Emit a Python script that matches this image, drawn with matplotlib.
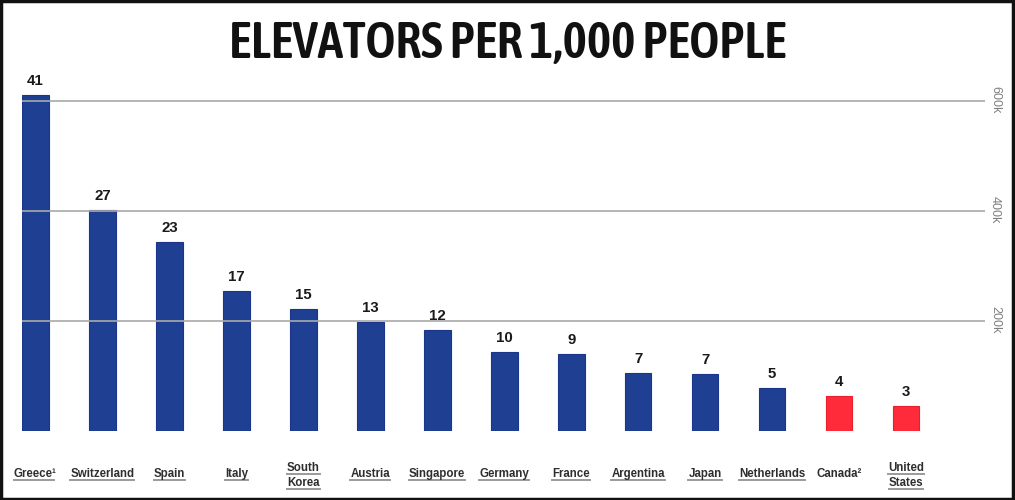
import matplotlib
matplotlib.use("Agg")
import matplotlib.pyplot as plt
from matplotlib import font_manager
from matplotlib.patches import Rectangle
from matplotlib.lines import Line2D
import matplotlib.transforms as mtransforms

countries = ["Greece¹", "Switzerland", "Spain", "Italy", "South\nKorea", "Austria",
             "Singapore", "Germany", "France", "Argentina", "Japan", "Netherlands",
             "Canada²", "United\nStates"]
value_labels = [41, 27, 23, 17, 15, 13, 12, 10, 9, 7, 7, 5, 4, 3]
bar_heights_k = [611, 402, 344, 255, 222, 198, 184, 144, 140, 105, 104, 78, 64, 45]
bar_colors = ["#1f3f93"] * 12 + ["#ff2b3a"] * 2
edge_colors = ["#1a3589"] * 12 + ["#e8202e"] * 2
underlined = [True] * 12 + [False, True]
right_ticks = [200, 400, 600]
right_tick_labels = ["200k", "400k", "600k"]
title = "ELEVATORS PER 1,000 PEOPLE"


def wnum(w):
    if isinstance(w, (int, float)):
        return int(w)
    return font_manager.weight_dict.get(str(w).lower(), 400)


def snum(s):
    if isinstance(s, (int, float)):
        return int(s)
    return font_manager.stretch_dict.get(str(s).lower(), 500)


title_font = None
cands = []
for f in font_manager.fontManager.ttflist:
    nm = f.name.lower()
    w = wnum(f.weight)
    s = snum(f.stretch)
    cond = s < 500 or "narrow" in nm or "condensed" in nm
    if cond and 500 <= w <= 700 and "italic" not in str(f.style).lower():
        cands.append((abs(w - 580) + (200 if "dejavu" in nm else 0), f))
if cands:
    cands.sort(key=lambda c: c[0])
    title_font = font_manager.FontProperties(fname=cands[0][1].fname)

W, H = 1015, 500
fig = plt.figure(figsize=(W / 100, H / 100), dpi=100)
fig.patch.set_facecolor("white")

ax_left, ax_right, ax_bottom, ax_top = 22, 985, 431, 5
ax = fig.add_axes([ax_left / W, 1 - ax_bottom / H, (ax_right - ax_left) / W,
                   (ax_bottom - ax_top) / H])
x = list(range(len(countries)))
ax.bar(x, bar_heights_k, width=0.4, color=bar_colors, edgecolor=edge_colors,
       linewidth=0.8, zorder=2)
ax.set_xlim(-0.2, 14.18)
ax.set_ylim(0, (ax_bottom - ax_top) / 110 * 200)
for t in right_ticks:
    ax.axhline(t, color="#a9a9a9", linewidth=1.2, zorder=3)
for s in ax.spines.values():
    s.set_visible(False)
ax.set_xticks([])
ax.set_yticks([])

for t, lab in zip(right_ticks, right_tick_labels):
    ax.text(995 / W, t + 2, lab,
            transform=mtransforms.blended_transform_factory(fig.transFigure, ax.transData),
            rotation=-90, ha="center", va="center", fontsize=9, color="#808080",
            family="Liberation Sans")

for xi, h, v in zip(x, bar_heights_k, value_labels):
    ax.annotate(str(v), (xi, h), xytext=(0, 5), textcoords="offset points",
                ha="center", va="bottom", fontsize=10.8, fontweight="bold",
                color="#1a1a1a", family="Liberation Sans")

trans = mtransforms.blended_transform_factory(ax.transData, fig.transFigure)
label_texts = []
for xi, name, ul in zip(x, countries, underlined):
    lines = name.split("\n")
    baselines = [477] if len(lines) == 1 else [471, 486]
    for ln, yb in zip(lines, baselines):
        t = fig.text(0, 0, ln, fontsize=8.3, fontweight="bold", color="#2e2e2e",
                     family="Liberation Sans", ha="center", va="baseline")
        t.set_transform(trans)
        t.set_position((xi, 1 - yb / H))
        label_texts.append((t, ul, ln, yb))

fig.canvas.draw()
renderer = fig.canvas.get_renderer()

if title_font is not None:
    title_font.set_size(37)
    tt = fig.text(508 / W, 1 - 44 / H, title, ha="center", va="center",
                  fontproperties=title_font, color="#111111")
else:
    tt = fig.text(508 / W, 1 - 44 / H, title, ha="center", va="center", fontsize=37,
                  fontweight="bold", family="DejaVu Sans", fontstretch="condensed",
                  color="#111111")
bbt = tt.get_window_extent(renderer)
if bbt.width > 0:
    tt.set_fontsize(tt.get_fontsize() * min(1.0, 580 / bbt.width))

for t, ul, ln, yb in label_texts:
    if not ul:
        continue
    bb = t.get_window_extent(renderer)
    x0, x1 = bb.x0, bb.x1
    if ln.endswith("¹"):
        x1 -= 3
    yline = H - (yb + 2.5)
    fig.add_artist(Line2D([x0 / W, x1 / W], [yline / H, yline / H], transform=fig.transFigure,
                          color="#9a9a9a", linewidth=1.4))

fig.add_artist(Rectangle((0.001, 0.002), 0.997, 0.996, transform=fig.transFigure,
                         fill=False, edgecolor="#111111", linewidth=2.5))

fig.savefig("out.png", dpi=100, facecolor="white")
